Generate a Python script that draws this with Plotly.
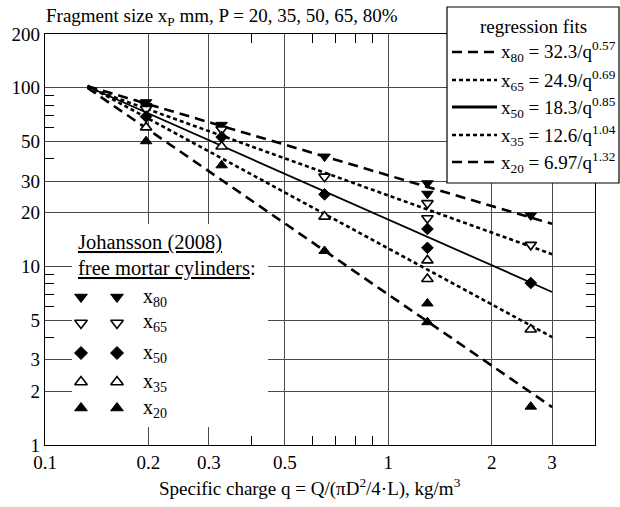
import plotly.graph_objects as go
import math

# ---------------- data ----------------
q_fit = [0.133, 3.0]
fit80 = [102.0, 17.3]
fit65 = [100.2, 11.7]
fit50 = [101.6, 7.19]
fit35 = [102.7, 4.02]
fit20 = [99.9, 1.63]

q80 = [0.197, 0.197, 0.327, 0.652, 1.30, 1.30, 2.60]
p80 = [83, 79, 62, 41.2, 29.2, 25.5, 19.3]
q_pts = [0.197, 0.327, 0.652, 1.30, 1.30, 2.60]
p65 = [76, 58.5, 31.8, 22.6, 18.6, 13.2]
p50 = [69, 53, 25.3, 16.2, 12.7, 8.07]
p35 = [60, 46.9, 19.0, 10.8, 8.5, 4.43]
p20 = [50.2, 36.8, 12.2, 6.2, 4.87, 1.64]

x_ticks = [0.1, 0.2, 0.3, 0.5, 1, 2, 3]
x_ticktext = ["0.1", "0.2", "0.3", "0.5", "1", "2", "3"]
y_ticks = [1, 2, 3, 5, 10, 20, 30, 50, 100, 200]
y_ticktext = ["1", "2", "3", "5", "10", "20", "30", "50", "100", "200"]
x_minor = [0.4, 0.6, 0.7, 0.8, 0.9]
y_minor = [4, 6, 7, 8, 9, 40, 60, 70, 80, 90]

fit_labels = ["x<sub>80</sub> = 32.3/q<sup>0.57</sup>",
              "x<sub>65</sub> = 24.9/q<sup>0.69</sup>",
              "x<sub>50</sub> = 18.3/q<sup>0.85</sup>",
              "x<sub>35</sub> = 12.6/q<sup>1.04</sup>",
              "x<sub>20</sub> = 6.97/q<sup>1.32</sup>"]
pt_labels = ["x<sub>80</sub>", "x<sub>65</sub>", "x<sub>50</sub>", "x<sub>35</sub>", "x<sub>20</sub>"]

# ---------------- layout geometry (pixels) ----------------
W, H = 620, 507
L, R, T, B = 45, 595, 34, 445
FONT = "Liberation Serif"
FS = 19

# 'paper' coordinates are relative to the plot area
def px(x):
    return (x - L) / (R - L)

def py(y):
    return (B - y) / (B - T)

LONG = "10px,6px"
SHORT = "4px,3px"

fig = go.Figure()

fits = [(fit80, LONG, 2.6), (fit65, SHORT, 2.6), (fit50, "solid", 1.8),
        (fit35, SHORT, 2.6), (fit20, LONG, 2.6)]
for vals, dash, w in fits:
    fig.add_trace(go.Scatter(x=q_fit, y=vals, mode="lines",
                             line=dict(color="black", width=w, dash=dash),
                             showlegend=False, hoverinfo="skip"))

BLACK = dict(color="black", line=dict(color="black", width=1))
WHITE = dict(color="white", line=dict(color="black", width=1.6))
series = [
    (q80, p80, "triangle-down", 10, BLACK),
    (q_pts, p65, "triangle-down", 10, WHITE),
    (q_pts, p50, "diamond", 9, BLACK),
    (q_pts, p35, "triangle-up", 10, WHITE),
    (q_pts, p20, "triangle-up", 10, BLACK),
]
for xs, ys, sym, sz, sty in series:
    fig.add_trace(go.Scatter(x=xs, y=ys, mode="markers",
                             marker=dict(symbol=sym, size=sz, **sty),
                             showlegend=False, hoverinfo="skip"))

# white panel behind the Johansson legend block (covers the grid)
bx0, bx1, by0, by1 = 72, 268, 224, 427
fig.add_trace(go.Scatter(x=[px(bx0), px(bx1), px(bx1), px(bx0), px(bx0)],
                         y=[py(by0), py(by0), py(by1), py(by1), py(by0)],
                         mode="lines", fill="toself", fillcolor="white",
                         line=dict(width=0, color="white"),
                         xaxis="x2", yaxis="y2", showlegend=False, hoverinfo="skip"))

leg_rows = [297, 323, 353, 382, 408]
for (xs, ys, sym, sz, sty), row in zip(series, leg_rows):
    fig.add_trace(go.Scatter(x=[px(81), px(117)], y=[py(row), py(row)], mode="markers",
                             marker=dict(symbol=sym, size=sz + 1, **sty),
                             xaxis="x2", yaxis="y2", showlegend=False, hoverinfo="skip"))

axis_common = dict(showline=True, linecolor="black", linewidth=1.3, mirror="ticks",
                   showgrid=True, gridcolor="#4a4a4a", gridwidth=1,
                   ticks="", zeroline=False,
                   tickfont=dict(family=FONT, size=FS, color="black"))

fig.update_layout(
    width=W, height=H,
    margin=dict(l=L, r=W - R, t=T, b=H - B),
    paper_bgcolor="white", plot_bgcolor="white",
    font=dict(family=FONT, size=FS, color="black"),
    xaxis=dict(type="log", range=[-1, math.log10(4)], tickmode="array",
               tickvals=x_ticks, ticktext=x_ticktext,
               minor=dict(tickmode="array", tickvals=x_minor, ticks="inside",
                          ticklen=9, tickcolor="black", tickwidth=1, showgrid=False),
               **axis_common),
    yaxis=dict(type="log", range=[0, math.log10(200)], tickmode="array",
               tickvals=y_ticks, ticktext=y_ticktext,
               minor=dict(tickmode="array", tickvals=y_minor, ticks="inside",
                          ticklen=9, tickcolor="black", tickwidth=1, showgrid=False),
               **axis_common),
    xaxis2=dict(overlaying="x", range=[0, 1], visible=False),
    yaxis2=dict(overlaying="y", range=[0, 1], visible=False),
)

shapes = []
# regression fits box
shapes.append(dict(type="rect", xref="paper", yref="paper",
                   x0=px(447), x1=px(619), y0=py(183), y1=py(7),
                   fillcolor="white", line=dict(color="black", width=1.2), layer="above"))
fit_rows = [52, 80, 107, 135, 162]
fit_styles = [(LONG, 2.6), (SHORT, 2.6), ("solid", 3.2), (SHORT, 2.6), (LONG, 2.6)]
for row, (dash, w) in zip(fit_rows, fit_styles):
    shapes.append(dict(type="line", xref="paper", yref="paper",
                       x0=px(452), x1=px(497), y0=py(row), y1=py(row),
                       line=dict(color="black", width=w, dash=dash), layer="above"))
fig.update_layout(shapes=shapes)

ann = []
def add_text(text, x, y, anchor="left", size=FS):
    ann.append(dict(text=text, xref="paper", yref="paper", x=px(x), y=py(y),
                    xanchor=anchor, yanchor="middle", showarrow=False,
                    font=dict(family=FONT, size=size, color="black")))

add_text("Fragment size x<sub>P</sub> mm, P = 20, 35, 50, 65, 80%", 44, 17)
add_text("Specific charge q = Q/(\u03c0D<sup>2</sup>/4\u00b7L), kg/m<sup>3</sup>", 310, 487, "center")
add_text("regression fits", 533, 26, "center")
for row, lab in zip(fit_rows, fit_labels):
    add_text(lab, 499, row)
add_text("<u>Johansson (2008)</u>", 76, 243, size=20.5)
add_text("<u>free mortar cylinders</u>:", 76, 268, size=20.5)
for row, lab in zip(leg_rows, pt_labels):
    add_text(lab, 141, row, size=20)
fig.update_layout(annotations=ann)

fig.write_html("out.html")
